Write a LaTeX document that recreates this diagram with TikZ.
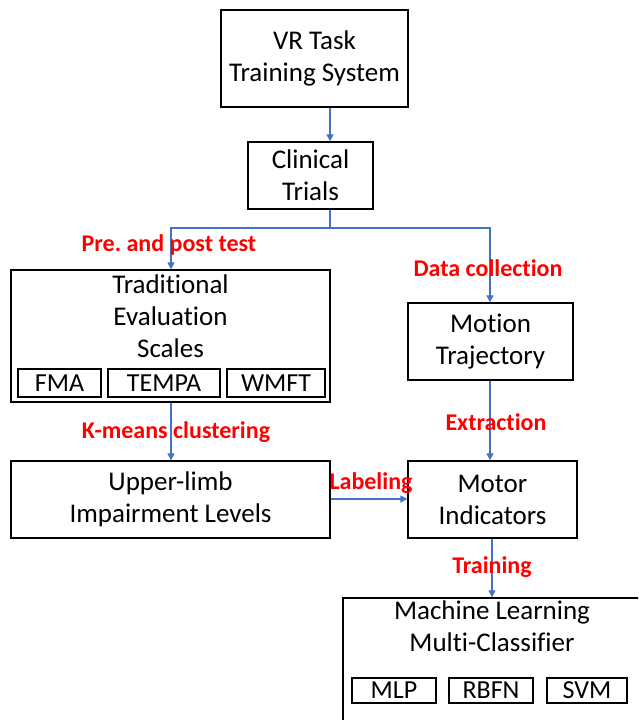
\documentclass[tikz,border=0pt]{standalone}
\usepackage{fontspec}
\setmainfont{Carlito}[Ligatures=NoCommon]
\usetikzlibrary{arrows.meta,calc}
\frenchspacing
\definecolor{arrblue}{RGB}{68,114,196}
\definecolor{lblred}{RGB}{255,0,0}
\tikzset{
  box/.style={draw=black, line width=1.3pt, inner sep=0pt, align=center, font=\fontsize{27}{32}\selectfont},
  subbox/.style={draw=black, line width=2.2pt, inner sep=0pt, font=\fontsize{26}{30}\selectfont},
  txt/.style={inner sep=0pt, align=center, font=\fontsize{27}{32}\selectfont},
  lbl/.style={inner sep=0pt, text=lblred, font=\bfseries\fontsize{24}{28}\selectfont},
  arr/.style={draw=arrblue, line width=1.1pt, -{Triangle[width=7pt,length=7pt]}},
  ln/.style={draw=arrblue, line width=1.1pt}
}
\begin{document}
\begin{tikzpicture}[x=1pt,y=-1pt]
\useasboundingbox (0,0) rectangle (638,720);
\begin{scope}
\clip (0,0) rectangle (638,720);
% boxes
\node[box, minimum width=187pt, minimum height=97pt] (vr) at (314.5,58.5) {VR Task\\Training System};
\node[box, minimum width=125pt, minimum height=67pt] (ct) at (310.5,175.5) {Clinical\\Trials};
\node[box, minimum width=319pt, minimum height=132pt] (tes) at (170.5,336) {};
\node[txt, anchor=north] (test) at (170.5,275) {Traditional\\Evaluation\\Scales};
\node[subbox, minimum width=83pt, minimum height=28pt] (fma) at (59.5,383) {FMA};
\node[subbox, minimum width=112pt, minimum height=28pt] (tempa) at (164,383) {TEMPA};
\node[subbox, minimum width=98pt, minimum height=28pt] (wmft) at (276,383) {WMFT};
\node[box, minimum width=165pt, minimum height=77pt] (mt) at (490.5,341.5) {Motion\\Trajectory};
\node[box, minimum width=319pt, minimum height=77pt] (ul) at (170.5,499.5) {Upper-limb\\Impairment Levels};
\node[box, minimum width=169pt, minimum height=77pt] (mi) at (492.5,499.5) {Motor\\Indicators};
\node[box, minimum width=310pt, minimum height=140pt] (ml) at (498,668) {};
\node[txt, anchor=north] (mlt) at (492,601) {Machine Learning\\Multi-Classifier};
\node[subbox, minimum width=84pt, minimum height=25pt] (mlp) at (394,690.5) {MLP};
\node[subbox, minimum width=84pt, minimum height=25pt] (rbfn) at (491,690.5) {RBFN};
\node[subbox, minimum width=80pt, minimum height=25pt] (svm) at (587,690.5) {SVM};
% coordinates
\coordinate (ax) at (330,0);
\coordinate (lx) at (171,0);
\coordinate (rx) at (490,0);
\coordinate (tx) at (492,0);
\coordinate (sy) at (0,228);
\coordinate (ly) at (0,499);
% connectors
\draw[arr] (vr.south -| ax) -- (ct.north -| ax);
\draw[ln] (ct.south -| ax) -- (ax |- sy);
\draw[arr] (ax |- sy) -| (tes.north -| lx);
\draw[arr] (ax |- sy) -| (mt.north -| rx);
\draw[arr] (tes.south -| lx) -- (ul.north -| lx);
\draw[arr] (mt.south -| rx) -- (mi.north -| rx);
\draw[arr] (ul.east |- ly) -- (mi.west |- ly);
\draw[arr] (mi.south -| tx) -- (ml.north -| tx);
% labels
\node[lbl] (l1) at (169,245) {Pre. and post test};
\node[lbl] (l2) at (488,268) {Data collection};
\node[lbl] (l3) at (176,432) {K-means clustering};
\node[lbl] (l4) at (496,422) {Extraction};
\node[lbl] (l5) at (371,483) {Labeling};
\node[lbl] (l6) at (492,567) {Training};
\end{scope}
\end{tikzpicture}
\end{document}
